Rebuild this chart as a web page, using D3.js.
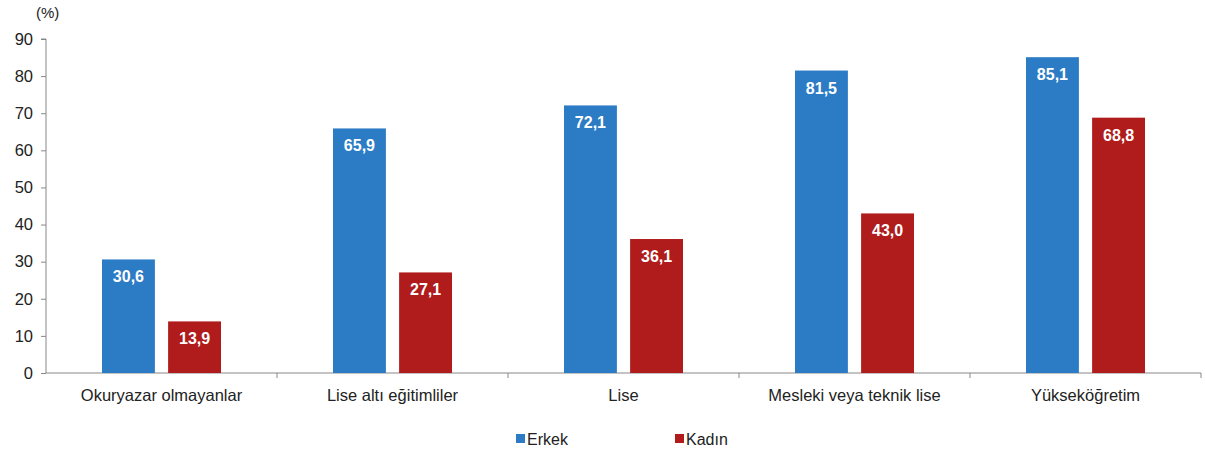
<!DOCTYPE html>
<html>
<head>
<meta charset="utf-8">
<script src="https://cdn.jsdelivr.net/npm/d3@7"></script>
<style>
  body { margin: 0; background: #fff; }
  text { font-family: "Liberation Sans", Arial, sans-serif; }
</style>
</head>
<body>
<div class="chart"></div>
<script>
var categories = ["Okuryazar olmayanlar", "Lise altı eğitimliler", "Lise", "Mesleki veya teknik lise", "Yükseköğretim"];
var seriesNames = ["Erkek", "Kadın"];
var erkek = [30.6, 65.9, 72.1, 81.5, 85.1];
var kadin = [13.9, 27.1, 36.1, 43.0, 68.8];
var yTicks = [0, 10, 20, 30, 40, 50, 60, 70, 80, 90];
var colors = ["#2b7bc5", "#b01b1b"];

var svgWidth = 1205;
var svgHeight = 456;

var svg = d3.select(".chart")
  .append("svg")
  .attr("width", svgWidth)
  .attr("height", svgHeight);

// plot area
var x0 = 46, x1 = 1201, yTop = 39, yBottom = 373;

var xScale = d3.scaleBand()
  .domain(categories)
  .range([x0, x1])
  .paddingInner(0)
  .paddingOuter(0);

var yScale = d3.scaleLinear()
  .domain([0, 90])
  .range([yBottom, yTop]);

var groupScale = d3.scaleBand()
  .domain(seriesNames)
  .range([56, xScale.bandwidth() - 56])
  .paddingInner(0.2);

// y axis
var leftAxis = d3.axisLeft(yScale).tickValues(yTicks).tickSize(5).tickPadding(8);
var yAxis = svg.append("g")
  .attr("transform", `translate(${x0}, 0)`)
  .call(leftAxis);
yAxis.select(".domain").attr("stroke", "#888").attr("d", `M-5,${yTop}H0V${yBottom}`);
yAxis.selectAll(".tick line").attr("stroke", "#888");
yAxis.selectAll(".tick text")
  .attr("fill", "#222")
  .style("font-size", "16.5px");

// x axis line with category boundary ticks
var xAxis = svg.append("g");
xAxis.append("line")
  .attr("x1", x0).attr("x2", x1)
  .attr("y1", yBottom).attr("y2", yBottom)
  .attr("stroke", "#888");
xAxis.selectAll(".bound")
  .data(categories)
  .enter()
  .append("line")
  .attr("x1", d => xScale(d) + xScale.bandwidth())
  .attr("x2", d => xScale(d) + xScale.bandwidth())
  .attr("y1", yBottom)
  .attr("y2", yBottom + 5)
  .attr("stroke", "#888");
xAxis.selectAll(".cat")
  .data(categories)
  .enter()
  .append("text")
  .attr("x", d => xScale(d) + xScale.bandwidth() / 2)
  .attr("y", 401)
  .attr("text-anchor", "middle")
  .attr("fill", "#222")
  .style("font-size", "16.5px")
  .text(d => d);

// unit label
svg.append("text")
  .attr("x", 36)
  .attr("y", 18)
  .attr("fill", "#222")
  .style("font-size", "15px")
  .text("(%)");

// bars
var rows = categories.map((c, i) => ({ cat: c, vals: [erkek[i], kadin[i]] }));

var groups = svg.selectAll(".grp")
  .data(rows)
  .enter()
  .append("g")
  .attr("transform", d => `translate(${xScale(d.cat)}, 0)`);

groups.selectAll("rect")
  .data(d => d.vals.map((v, j) => ({ name: seriesNames[j], v: v, j: j })))
  .enter()
  .append("rect")
  .attr("x", d => groupScale(d.name))
  .attr("y", d => yScale(d.v))
  .attr("width", groupScale.bandwidth())
  .attr("height", d => yBottom - yScale(d.v))
  .attr("fill", d => colors[d.j]);

groups.selectAll(".val")
  .data(d => d.vals.map((v, j) => ({ name: seriesNames[j], v: v, j: j })))
  .enter()
  .append("text")
  .attr("x", d => groupScale(d.name) + groupScale.bandwidth() / 2)
  .attr("y", d => yScale(d.v) + 23)
  .attr("text-anchor", "middle")
  .attr("fill", "#fff")
  .style("font-size", "16px")
  .style("font-weight", "bold")
  .text(d => d.v.toFixed(1).replace(".", ","));

// legend
var legendX = [516, 675];
var legend = svg.selectAll(".leg")
  .data(seriesNames)
  .enter()
  .append("g")
  .attr("transform", (d, i) => `translate(${legendX[i]}, 440)`);
legend.append("rect")
  .attr("x", 0).attr("y", -6)
  .attr("width", 9).attr("height", 9)
  .attr("fill", (d, i) => colors[i]);
legend.append("text")
  .attr("x", 11)
  .attr("y", 5)
  .attr("fill", "#222")
  .style("font-size", "16px")
  .text(d => d);
</script>
</body>
</html>
